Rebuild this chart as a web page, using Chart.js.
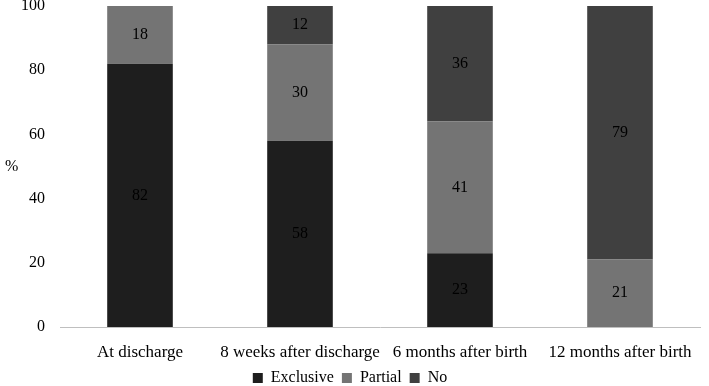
<!DOCTYPE html>
<html>
<head>
<meta charset="utf-8">
<script src="https://cdn.jsdelivr.net/npm/chart.js@4"></script>
<style>
  html, body { margin: 0; padding: 0; background: #fff; }
  #wrap { width: 709px; height: 386px; }
</style>
</head>
<body>
<div id="wrap"><canvas id="feedChart" width="709" height="386"></canvas></div>
<script>
const categories = ['At discharge', '8 weeks after discharge', '6 months after birth', '12 months after birth'];
const exclusive = [82, 58, 23, 0];
const partial = [18, 30, 41, 21];
const none = [0, 12, 36, 79];
const yTicks = [0, 20, 40, 60, 80, 100];

const serif = '"Liberation Serif", "Times New Roman", serif';

// 막대 안에 값 표시 + 범례 높이 고정
const segmentLabels = {
  id: 'segmentLabels',
  afterInit(chart) {
    const lg = chart.legend;
    if (!lg) return;
    const fit = lg.fit;
    lg.fit = function () { fit.call(this); this.height = 24; };
  },
  afterDatasetsDraw(chart) {
    const ctx = chart.ctx;
    ctx.save();
    ctx.font = '16px ' + serif;
    ctx.fillStyle = '#000';
    ctx.textAlign = 'center';
    ctx.textBaseline = 'middle';
    chart.data.datasets.forEach((ds, i) => {
      chart.getDatasetMeta(i).data.forEach((bar, j) => {
        const v = ds.data[j];
        if (!v) return;
        ctx.fillText(String(v), bar.x, (bar.y + bar.base) / 2);
      });
    });
    // y축 제목 '%'
    const a = chart.chartArea;
    ctx.textAlign = 'left';
    ctx.fillText('%', 5, (a.top + a.bottom) / 2);
    ctx.restore();
  }
};

new Chart(document.getElementById('feedChart'), {
  type: 'bar',
  data: {
    labels: categories,
    datasets: [
      { label: 'Exclusive', data: exclusive, backgroundColor: '#1e1e1e' },
      { label: 'Partial', data: partial, backgroundColor: '#747474' },
      { label: 'No', data: none, backgroundColor: '#404040' }
    ]
  },
  options: {
    responsive: false,
    animation: false,
    layout: { padding: { left: 0, right: 9, top: 6, bottom: 0 } },
    datasets: { bar: { categoryPercentage: 1, barPercentage: 0.41 } },
    scales: {
      x: {
        stacked: true,
        afterFit(scale) { scale.height = 35; },
        grid: { display: false, drawTicks: false },
        border: { display: true, color: '#bfbfbf', width: 1 },
        ticks: {
          color: '#000', font: { family: serif, size: 17 }, padding: 15,
          maxRotation: 0, minRotation: 0, autoSkip: false
        }
      },
      y: {
        stacked: true,
        min: 0,
        max: 100,
        afterBuildTicks(scale) { scale.ticks = yTicks.map(v => ({ value: v })); },
        afterFit(scale) {
          scale.width = 60;
          scale.paddingTop = 0;
          scale.paddingBottom = 0;
        },
        grid: { display: false },
        border: { display: false },
        ticks: { color: '#000', font: { family: serif, size: 16 }, padding: 7 }
      }
    },
    plugins: {
      legend: {
        position: 'bottom',
        labels: {
          color: '#000',
          font: { family: serif, size: 16 },
          boxWidth: 10,
          boxHeight: 10,
          padding: 8
        }
      },
      tooltip: { enabled: false }
    }
  },
  plugins: [segmentLabels]
});
</script>
</body>
</html>
